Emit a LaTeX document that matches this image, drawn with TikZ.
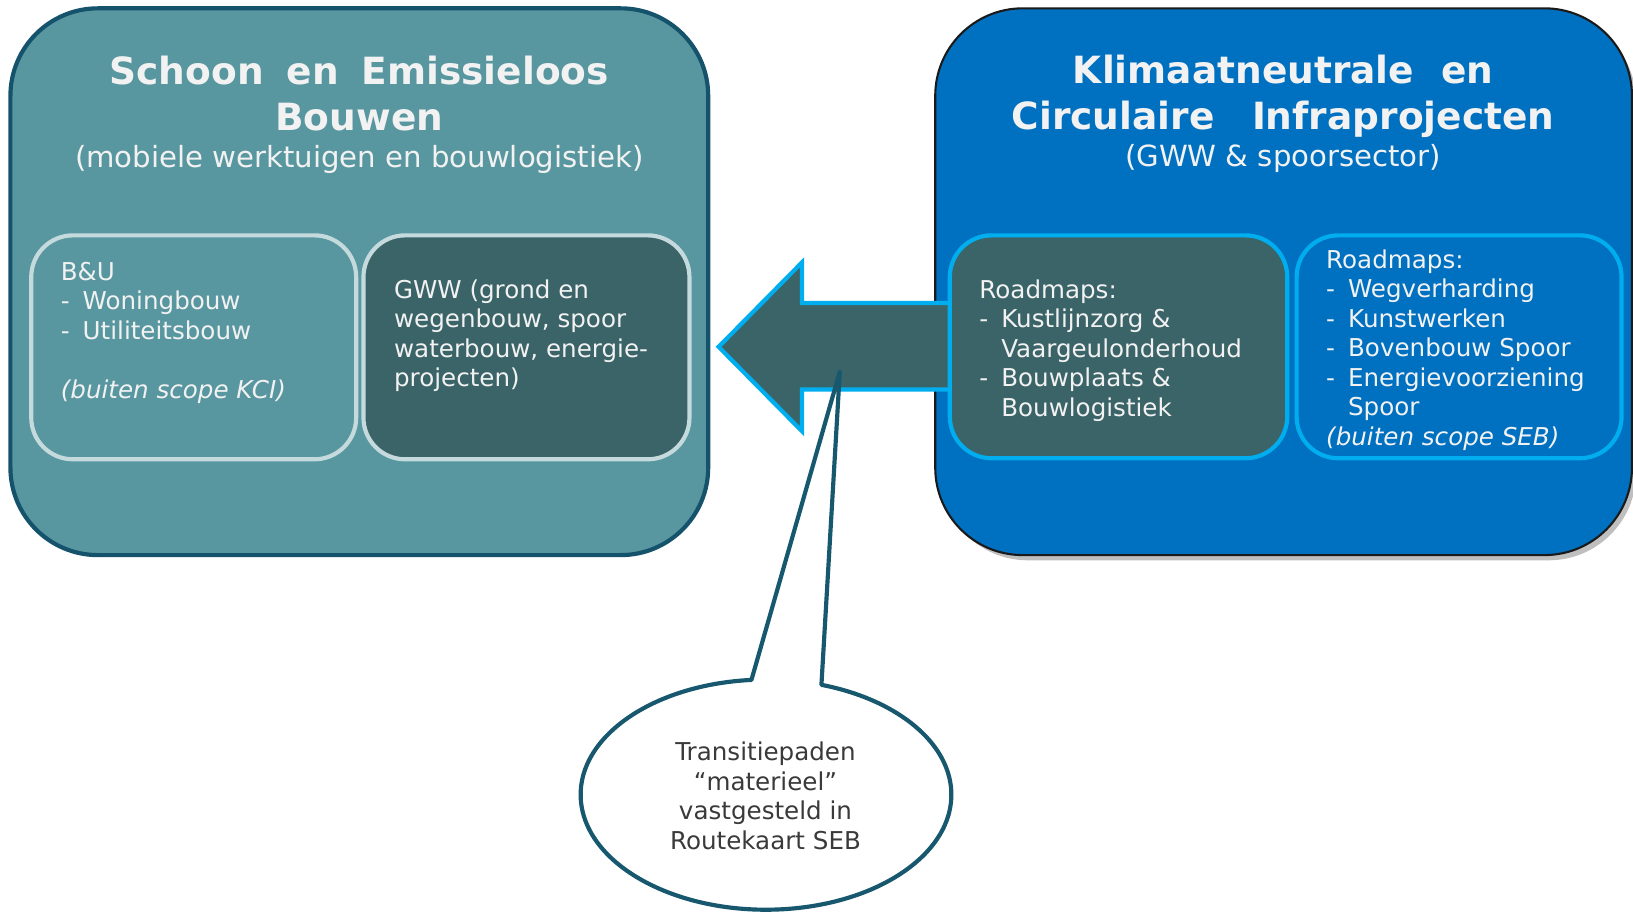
\documentclass[tikz,border=0pt]{standalone}
\usepackage{fontspec}
\setmainfont{DejaVu Sans}
\usetikzlibrary{calc}
\definecolor{leftfill}{HTML}{5897A0}
\definecolor{leftborder}{HTML}{15526B}
\definecolor{darkfill}{HTML}{3B6468}
\definecolor{lightborder}{HTML}{C5DADD}
\definecolor{rightfill}{HTML}{0070C0}
\definecolor{rightborder}{HTML}{1A1A1A}
\definecolor{cyanborder}{HTML}{00AEEF}
\definecolor{calloutborder}{HTML}{17586F}
\definecolor{txt}{HTML}{F2F2F2}
\definecolor{bubbletxt}{HTML}{3A3A3A}
\newcommand{\dsh}{-\hspace{0.53em}}
\newcommand{\ind}{\phantom{-}\hspace{0.53em}}
\begin{document}
\begin{tikzpicture}[x=0.5pt,y=-0.5pt,
  bigbox/.style={draw, rounded corners=42pt, line width=2pt},
  innerbox/.style={draw, rounded corners=20pt, line width=2pt},
  titletext/.style={text=txt, align=center, inner sep=0pt, font=\bfseries\fontsize{18}{22.5}\selectfont},
  subtext/.style={text=txt, align=center, inner sep=0pt, font=\fontsize{14}{16}\selectfont},
  bodytext/.style={text=txt, align=left, inner sep=0pt, font=\fontsize{11.8}{14.2}\selectfont},
  bubbletext/.style={text=bubbletxt, align=center, inner sep=0pt, font=\fontsize{11.8}{14.2}\selectfont},
  arrowshape/.style={fill=darkfill, draw=cyanborder, line width=2pt, line join=miter},
  calloutshape/.style={fill=white, draw=calloutborder, line width=2pt, line join=round}
]
\useasboundingbox (0,0) rectangle (1568,877.6);
\fill[white] (0,0) rectangle (1568,877.6);

% left big box
\node[bigbox, fill=leftfill, draw=leftborder, minimum width=335pt, minimum height=262.5pt] (L) at (345,270.5) {};
% right big box with shadow
\fill[black!25, rounded corners=42pt] (903,14) rectangle (1571,538);
\node[bigbox, fill=rightfill, draw=rightborder, line width=1pt, minimum width=334.5pt, minimum height=262.5pt] (R) at (1232.5,270.5) {};

% titles
\node[titletext, anchor=north] (Lt) at (345,53) {Schoon\hspace{0.61em}en\hspace{0.61em}Emissieloos\\Bouwen};
\node[subtext, anchor=north] (Ls) at (345,139) {(mobiele werktuigen en bouwlogistiek)};
\node[titletext, anchor=north] (Rt) at (1232,52) {Klimaatneutrale\hspace{0.72em}en\\Circulaire\hspace{1em}Infraprojecten};
\node[subtext, anchor=north] (Rs) at (1232,138) {(GWW \& spoorsector)};

% inner boxes
\node[innerbox, fill=leftfill, draw=lightborder, minimum width=156pt, minimum height=107.5pt] (BU) at (186,333.5) {};
\node[innerbox, fill=darkfill, draw=lightborder, minimum width=156.5pt, minimum height=107.5pt] (GWW) at (505.5,333.5) {};

% arrow
\draw[arrowshape] (690,333) -- (770,252) -- (770,291) -- (930,291) -- (930,374) -- (770,374) -- (770,414) -- cycle;

\node[innerbox, fill=darkfill, draw=cyanborder, minimum width=162pt, minimum height=107pt] (R1) at (1074,333) {};
\node[innerbox, fill=rightfill, draw=cyanborder, minimum width=156pt, minimum height=107pt] (R2) at (1401,333) {};

% inner texts
\node[bodytext, anchor=north west] (BUt) at (58,251) {B\&U\\\dsh Woningbouw\\\dsh Utiliteitsbouw\\ \\\textit{(buiten scope KCI)}};
\node[bodytext, anchor=north west] (GWWt) at (378,268) {GWW (grond en\\wegenbouw, spoor\\waterbouw, energie-\\projecten)};
\node[bodytext, anchor=north west] (R1t) at (940,268) {Roadmaps:\\\dsh Kustlijnzorg \&\\\ind Vaargeulonderhoud\\\dsh Bouwplaats \&\\\ind Bouwlogistiek};
\node[bodytext, anchor=north west] (R2t) at (1273,239) {Roadmaps:\\\dsh Wegverharding\\\dsh Kunstwerken\\\dsh Bovenbouw Spoor\\\dsh Energievoorziening\\\ind Spoor\\\textit{(buiten scope SEB)}};

% callout
\coordinate (C) at (735.5,763);
\coordinate (tip) at (806.4,356.8);
\draw[calloutshape] ($(C)+(94.5:89pt and 55.25pt)$) arc[start angle=94.5, end angle=432.6, x radius=89pt, y radius=55.25pt] -- (tip) -- cycle;
\node[bubbletext] (Bt) at (735,764) {Transitiepaden\\“materieel”\\vastgesteld in\\Routekaart SEB};
\end{tikzpicture}
\end{document}
